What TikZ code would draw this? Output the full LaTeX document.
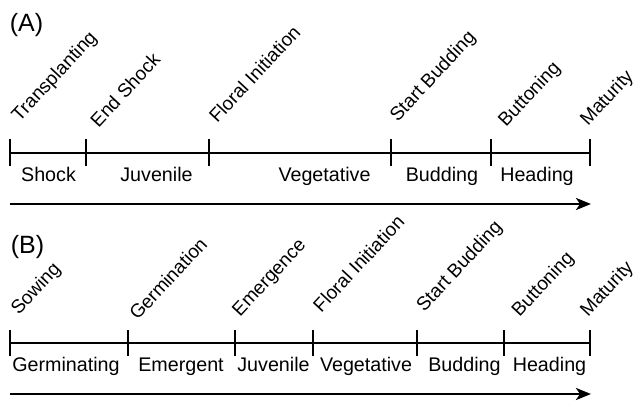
\documentclass[tikz,border=0pt]{standalone}
\usepackage{fontspec}
\setmainfont{Liberation Sans}
\usetikzlibrary{arrows.meta}
\begin{document}
\begin{tikzpicture}[x=1pt,y=-1pt,
  lbl/.style={inner sep=0pt,font=\fontsize{19.7}{23}\selectfont},
  evt/.style={inner sep=0pt,font=\fontsize{19}{23}\selectfont,anchor=center,rotate=47},
  phase/.style={lbl,anchor=base},
  panel/.style={inner sep=0pt,anchor=center,font=\fontsize{25}{29}\selectfont},
  tl/.style={line width=2pt},
  tick/.style={line width=2pt},
  timearrow/.style={line width=2.6pt,-{Stealth[length=15pt,width=12pt,inset=4pt]}}]
\useasboundingbox (0,0) rectangle (637,401);
% ---------- Panel A ----------
\node[panel] (labA) at (26.5,25) {(A)};
\foreach \n/\x in {a1/10,a2/85.7,a3/209,a4/390.5,a5/490.5,a6/589.5}{
  \coordinate (\n) at (\x,152.7);
  \draw[tick] (\x,139) -- (\x,166);
}
\draw[tl] (a1) -- (a6);
\node[evt] (eA1) at (55,77) {Transplanting};
\node[evt] (eA2) at (125,90) {End Shock};
\node[evt] (eA3) at (254.5,74) {Floral Initiation};
\node[evt] (eA4) at (433.5,77) {Start Budding};
\node[evt] (eA5) at (530,95) {Buttoning};
\node[evt] (eA6) at (607.5,98.5) {Maturity};
\node[phase] (pA1) at (48.5,181.5) {Shock};
\node[phase] (pA2) at (156.5,181.5) {Juvenile};
\node[phase] (pA3) at (324.5,181.5) {Vegetative};
\node[phase] (pA4) at (442,181.5) {Budding};
\node[phase] (pA5) at (537,181.5) {Heading};
\coordinate (arAs) at (10,204);
\coordinate (arAe) at (591,204);
\draw[timearrow] (arAs) -- (arAe);
% ---------- Panel B ----------
\node[panel] (labB) at (27.5,247.5) {(B)};
\foreach \n/\x in {b1/10,b2/128,b3/235,b4/313,b5/416.5,b6/504,b7/589.5}{
  \coordinate (\n) at (\x,343);
  \draw[tick] (\x,330) -- (\x,356);
}
\draw[tl] (b1) -- (b7);
\node[evt] (eB1) at (36.5,289.5) {Sowing};
\node[evt] (eB2) at (168,278.5) {Germination};
\node[evt] (eB3) at (270,278.5) {Emergence};
\node[evt] (eB4) at (358.5,263.5) {Floral Initiation};
\node[evt] (eB5) at (460,267) {Start Budding};
\node[evt] (eB6) at (543.5,285) {Buttoning};
\node[evt] (eB7) at (607.5,289.5) {Maturity};
\node[phase] (pB1) at (66,371.5) {Germinating};
\node[phase] (pB2) at (181,371.5) {Emergent};
\node[phase] (pB3) at (273.5,371.5) {Juvenile};
\node[phase] (pB4) at (366,371.5) {Vegetative};
\node[phase] (pB5) at (464.5,371.5) {Budding};
\node[phase] (pB6) at (549.5,371.5) {Heading};
\coordinate (arBs) at (10,394);
\coordinate (arBe) at (591,394);
\draw[timearrow] (arBs) -- (arBe);
\end{tikzpicture}
\end{document}
